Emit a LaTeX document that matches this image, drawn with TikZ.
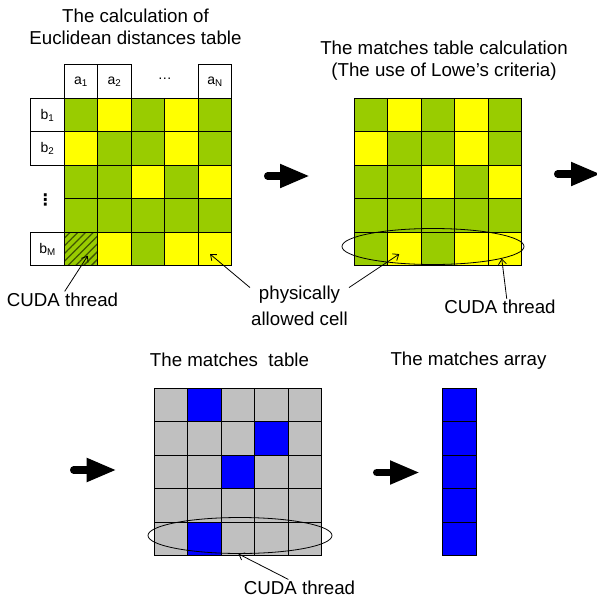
\documentclass[tikz,border=0pt]{standalone}
\usepackage{fontspec}
\setmainfont{Liberation Sans}
\newfontfamily\symfont{DejaVu Sans}
\usetikzlibrary{arrows.meta,patterns.meta,positioning,calc,shapes.geometric}

\definecolor{lg}{HTML}{99CC00}
\definecolor{yl}{HTML}{FFFF00}
\definecolor{gy}{HTML}{C0C0C0}
\definecolor{bl}{HTML}{0000FF}
\definecolor{hatch}{HTML}{3F5500}

\begin{document}
\begin{tikzpicture}[x=1pt, y=-1pt,
  cell/.style={draw, line width=0.9pt, minimum size=33.5pt, inner sep=0pt, outer sep=0pt},
  head node/.style={cell, fill=white, font=\fontsize{14}{16}\selectfont},
  title/.style={align=center, font=\fontsize{18.7}{22}\selectfont},
  note/.style={align=center, inner sep=1pt, font=\fontsize{18.7}{25.5}\selectfont},
  oval/.style={draw, ellipse, line width=0.8pt, inner sep=0pt},
  big arrow/.style={line width=7.5pt, line cap=round, -{Triangle[length=30pt,width=22pt]}},
  thin arrow/.style={line width=0.8pt, -{Straight Barb[length=5pt,width=8pt]}}]

  \useasboundingbox (0,0) rectangle (597,598);

  % distance table and matches table (same colours)
  \foreach \tb/\xo in {d/64.3, m/354}
    \foreach \r/\row in {1/{lg,yl,lg,yl,lg}, 2/{yl,lg,lg,yl,lg}, 3/{lg,lg,yl,lg,yl},
                         4/{lg,lg,lg,lg,lg}, 5/{lg,yl,lg,yl,yl}}
      \foreach \col [count=\c] in \row
        \node[cell, fill=\col] (\tb-\r-\c) at ({\xo+33.5*(\c-0.5)}, {98.3+33.5*(\r-0.5)}) {};

  % thread cell
  \path[pattern={Lines[angle=45,distance=5.5pt,line width=1.3pt]}, pattern color=hatch]
    (d-5-1.south west) rectangle (d-5-1.north east);
  \draw[line width=0.9pt] (d-5-1.south west) rectangle (d-5-1.north east);

  % headers
  \node[head node, above=0pt of d-1-1] (a1) {a\textsubscript{1}};
  \node[head node, above=0pt of d-1-2] (a2) {a\textsubscript{2}};
  \node[head node, above=0pt of d-1-5] (aN) {a\textsubscript{N}};
  \node[font=\fontsize{14}{16}\selectfont] (adots) at (164.8, 79) {\ldots};
  \node[head node, left=0pt of d-1-1] (b1) {b\textsubscript{1}};
  \node[head node, left=0pt of d-2-1] (b2) {b\textsubscript{2}};
  \node[head node, left=0pt of d-5-1] (bM) {b\textsubscript{M}};
  \node[font=\symfont\fontsize{16}{18}\selectfont\bfseries] (bdots) at (45.5, 200) {⋮};

  % matches table
  \foreach \r/\row in {1/{gy,bl,gy,gy,gy}, 2/{gy,gy,gy,bl,gy}, 3/{gy,gy,bl,gy,gy},
                       4/{gy,gy,gy,gy,gy}, 5/{gy,bl,gy,gy,gy}}
    \foreach \col [count=\c] in \row
      \node[cell, fill=\col] (t-\r-\c) at ({154+33.5*(\c-0.5)}, {388+33.5*(\r-0.5)}) {};

  % matches array
  \foreach \r in {1,...,5}
    \node[cell, fill=bl] (v-\r) at (459.5, {388+33.5*(\r-0.5)}) {};

  \node[oval, minimum width=182pt, minimum height=36pt] (oval2) at (433, 246.5) {};
  \node[oval, minimum width=184pt, minimum height=36pt] (oval3) at (240, 535.5) {};

  % titles
  \node[title] (title1) at (135.5, 27.2) {The calculation of\\Euclidean distances table};
  \node[title] (title2) at (444, 60.5) {The matches table calculation\\(The use of Lowe’s criteria)};
  \node[title] (title3) at (229.5, 360.2) {The matches~ table};
  \node[title] (title4) at (468.5, 360.2) {The matches array};

  % labels
  \node[note] (cuda1) at (62.5, 299.5) {CUDA thread};
  \node[note] (cellnote) at (299.5, 305.6) {physically\\allowed cell};
  \node[note] (cuda2) at (500, 307) {CUDA thread};
  \node[note] (cuda3) at (299.5, 587.5) {CUDA thread};

  \draw[thin arrow] (cuda1.75) -- ($(d-5-1.center)!0.4!(d-5-1.south east)$);
  \draw[thin arrow] (cellnote.160) -- ($(d-5-5.center)!0.3!(d-5-5.south west)$);
  \draw[thin arrow] (cellnote.20) -- ($(m-5-2.center)!0.3!(m-5-2.south west)$);
  \draw[thin arrow] (cuda2.50) -- (oval2.-10);
  \draw[thin arrow] (cuda3.144) -- (oval3.-95);

  % big arrows between the steps
  \coordinate (s1) at (267.75, 176);
  \coordinate (e1) at (310, 176);
  \coordinate (s2) at (557.75, 174);
  \coordinate (e2) at (601, 174);
  \coordinate (s3) at (73.75, 470);
  \coordinate (e3) at (116.7, 470);
  \coordinate (s4) at (376.75, 472.5);
  \coordinate (e4) at (420, 472.5);
  \draw[big arrow] (s1) -- (e1);
  \draw[big arrow] (s2) -- (e2);
  \draw[big arrow] (s3) -- (e3);
  \draw[big arrow] (s4) -- (e4);

\end{tikzpicture}
\end{document}
